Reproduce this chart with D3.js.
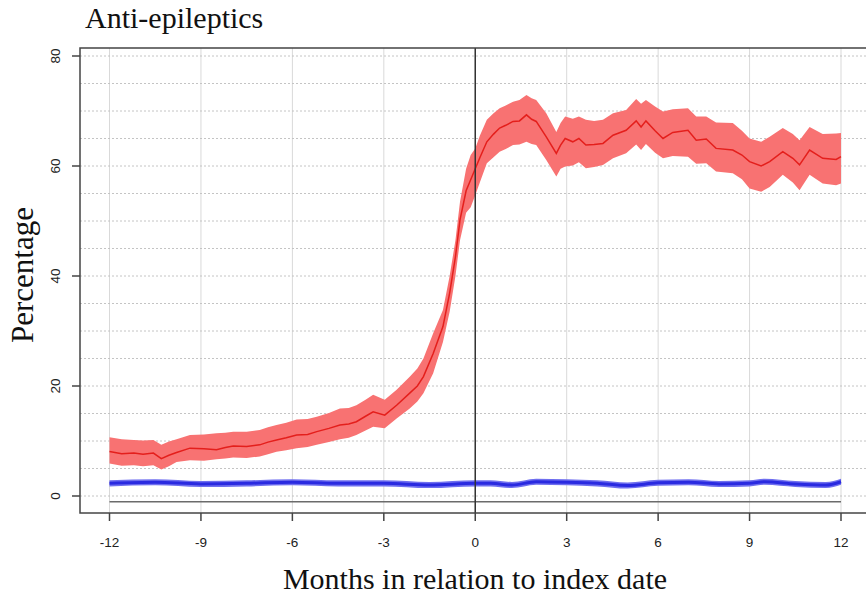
<!DOCTYPE html>
<html>
<head>
<meta charset="utf-8">
<script src="https://cdn.jsdelivr.net/npm/d3@7"></script>
<style>
  html, body { margin: 0; padding: 0; background: #fff; }
  svg { display: block; }
</style>
</head>
<body>
<svg id="chart" width="866" height="595"></svg>
<script>
// Anti-epileptics: share of patients on medication around the index date.

const monthTicks = [-12, -9, -6, -3, 0, 3, 6, 9, 12];
const pctTicks = [0, 20, 40, 60, 80];

// cases (red): mean with confidence band
const caseMonths = [-12, -11.6, -11.2, -10.9, -10.56, -10.3, -10.05, -9.8, -9.36, -8.9, -8.49, -8.2, -7.94, -7.5, -7.07,
  -6.8, -6.52, -6.2, -5.86, -5.5, -5.2, -4.8, -4.44, -4.15, -3.9, -3.6, -3.35, -2.97, -2.58, -2.15, -1.9, -1.7, -1.38,
  -1.06, -0.84, -0.65, -0.5, -0.3, -0.15, 0, 0.15, 0.38, 0.6, 0.8, 1.0, 1.24, 1.45, 1.68, 1.85, 2.0, 2.33, 2.66, 2.8,
  2.95, 3.2, 3.4, 3.63, 3.9, 4.19, 4.52, 4.95, 5.28, 5.44, 5.6, 5.9, 6.16, 6.48, 6.98, 7.25, 7.58, 7.9, 8.45, 8.75,
  9.0, 9.38, 9.66, 10.09, 10.42, 10.64, 10.97, 11.4, 11.84, 12];
const caseMean = [8.1, 7.7, 7.8, 7.6, 7.8, 6.8, 7.4, 7.9, 8.7, 8.6, 8.4, 8.8, 9.1, 9.0, 9.3,
  9.8, 10.2, 10.6, 11.1, 11.2, 11.7, 12.3, 12.9, 13.1, 13.5, 14.5, 15.3, 14.7, 16.5, 18.7, 20.0, 21.7, 25.9,
  30.8, 36.9, 43.5, 50.2, 55.5, 57.5, 59.5, 61.5, 64.4, 65.8, 66.9, 67.4, 68.1, 68.2, 69.3, 68.5, 68.1, 65.3, 62.3, 63.8,
  65.0, 64.4, 65.0, 63.8, 63.9, 64.1, 65.6, 66.5, 68.2, 67.1, 68.2, 66.4, 65.0, 66.1, 66.5, 64.7, 64.9, 63.2, 62.9, 62.0,
  60.8, 60.0, 60.8, 62.6, 61.4, 60.2, 62.9, 61.4, 61.2, 61.7];
const caseLow = [5.9, 5.5, 5.6, 5.4, 5.6, 4.8, 5.4, 6.2, 6.5, 6.4, 6.7, 6.8, 7.0, 6.9, 7.2,
  7.6, 8.05, 8.3, 8.7, 8.9, 9.3, 9.8, 10.3, 10.6, 11.1, 11.9, 12.6, 12.3, 14.1, 15.9, 17.2, 18.7, 22.3,
  28.0, 33.5, 40.0, 46.5, 51.5, 52.5, 54.7, 57.0, 60.5, 61.6, 62.6, 63.1, 63.8, 63.9, 64.4, 64.0, 63.8, 61.1, 58.1, 59.5,
  59.9, 60.1, 60.7, 59.6, 59.8, 60.2, 61.4, 62.3, 63.9, 62.9, 64.0, 62.4, 61.4, 61.8, 61.7, 60.4, 60.5, 59.0, 58.7, 57.6,
  55.9, 55.3, 56.2, 58.4, 57.0, 55.6, 58.4, 56.8, 56.5, 56.8];
const caseHigh = [10.7, 10.3, 10.2, 10.1, 10.2, 9.3, 9.9, 10.3, 11.1, 11.2, 11.4, 11.5, 11.7, 11.7, 12.0,
  12.5, 12.9, 13.3, 13.9, 14.0, 14.4, 15.1, 15.9, 16.0, 16.5, 17.5, 18.4, 17.5, 19.3, 21.7, 23.2, 25.0, 29.6,
  33.8, 40.0, 46.5, 53.5, 59.5, 62.0, 63.2, 65.5, 68.4, 69.6, 70.5, 71.0, 71.7, 72.0, 72.9, 72.3, 72.0, 69.6, 66.2, 67.8,
  69.0, 68.6, 69.0, 68.4, 68.2, 68.4, 69.6, 70.2, 72.2, 71.3, 72.0, 70.8, 69.9, 70.3, 70.5, 69.0, 69.0, 67.9, 67.8, 66.4,
  65.0, 64.4, 65.3, 66.9, 65.8, 64.7, 67.1, 65.8, 65.9, 66.0];

// controls (blue)
const ctrlMonths = [-12, -10.5, -9, -7.5, -6, -4.5, -3, -1.5, 0, 0.5, 1.2, 2, 3, 4, 5, 6, 7, 8, 9, 9.5, 10.5, 11.5, 12];
const ctrlMean = [2.3, 2.5, 2.2, 2.3, 2.5, 2.3, 2.3, 2.0, 2.3, 2.3, 2.0, 2.6, 2.5, 2.3, 1.9, 2.4, 2.5, 2.2, 2.3, 2.6, 2.2, 2.0, 2.6];

const refLevel = -1.05;

const svg = d3.select('#chart');
const box = { left: 80, top: 48, right: 880, bottom: 513 };

const x = d3.scaleLinear().domain([-12, 12]).range([109.5, 841]);
const y = d3.scaleLinear().domain([0, 80]).range([496, 56]);

// grid
const grid = svg.append('g');
grid.selectAll('line.vg').data(monthTicks).enter().append('line')
  .attr('x1', d => x(d)).attr('x2', d => x(d))
  .attr('y1', box.top).attr('y2', box.bottom)
  .attr('stroke', '#d9d9d9').attr('stroke-width', 1);
grid.selectAll('line.hg').data(d3.range(0, 85, 5)).enter().append('line')
  .attr('x1', box.left).attr('x2', box.right)
  .attr('y1', d => y(d)).attr('y2', d => y(d))
  .attr('stroke', '#c4c4c4').attr('stroke-width', 1).attr('stroke-dasharray', '2,2');

// reference line under the curves
svg.append('line')
  .attr('x1', x(-12)).attr('x2', x(12))
  .attr('y1', y(refLevel)).attr('y2', y(refLevel))
  .attr('stroke', '#6b6b6b').attr('stroke-width', 1.6);

// controls
const ctrl = ctrlMonths.map((m, i) => ({ m, v: ctrlMean[i] }));
svg.append('path').datum(ctrl)
  .attr('fill', '#6f6fef')
  .attr('d', d3.area().x(d => x(d.m)).y0(d => y(d.v - 0.55)).y1(d => y(d.v + 0.55)).curve(d3.curveMonotoneX));
svg.append('path').datum(ctrl)
  .attr('fill', 'none').attr('stroke', '#2a2ae0').attr('stroke-width', 3)
  .attr('d', d3.line().x(d => x(d.m)).y(d => y(d.v)).curve(d3.curveMonotoneX));

// cases
const cases = caseMonths.map((m, i) => ({ m, v: caseMean[i], lo: caseLow[i], hi: caseHigh[i] }));
svg.append('path').datum(cases)
  .attr('fill', '#f87272')
  .attr('d', d3.area().x(d => x(d.m)).y0(d => y(d.lo)).y1(d => y(d.hi)));
svg.append('path').datum(cases)
  .attr('fill', 'none').attr('stroke', '#e41f1c').attr('stroke-width', 1.5)
  .attr('d', d3.line().x(d => x(d.m)).y(d => y(d.v)));

// index date
svg.append('line')
  .attr('x1', x(0)).attr('x2', x(0))
  .attr('y1', box.top).attr('y2', box.bottom)
  .attr('stroke', '#333').attr('stroke-width', 1.5);

// frame
svg.append('rect')
  .attr('x', box.left).attr('y', box.top)
  .attr('width', box.right - box.left).attr('height', box.bottom - box.top)
  .attr('fill', 'none').attr('stroke', '#444').attr('stroke-width', 1.5);

// x axis
const xAxis = svg.append('g');
xAxis.selectAll('line').data(monthTicks).enter().append('line')
  .attr('x1', d => x(d)).attr('x2', d => x(d))
  .attr('y1', box.bottom).attr('y2', box.bottom + 8)
  .attr('stroke', '#444').attr('stroke-width', 1.5);
xAxis.selectAll('text').data(monthTicks).enter().append('text')
  .attr('x', d => x(d)).attr('y', 547)
  .attr('text-anchor', 'middle')
  .attr('font-family', 'Liberation Sans, Arial, sans-serif').attr('font-size', 13.5)
  .attr('fill', '#222')
  .text(d => d);

// y axis
const yAxis = svg.append('g');
yAxis.selectAll('line').data(pctTicks).enter().append('line')
  .attr('x1', box.left - 8).attr('x2', box.left)
  .attr('y1', d => y(d)).attr('y2', d => y(d))
  .attr('stroke', '#444').attr('stroke-width', 1.5);
yAxis.selectAll('text').data(pctTicks).enter().append('text')
  .attr('transform', d => `translate(60,${y(d)}) rotate(-90)`)
  .attr('text-anchor', 'middle')
  .attr('font-family', 'Liberation Sans, Arial, sans-serif').attr('font-size', 13.5)
  .attr('fill', '#222')
  .text(d => d);

// titles
const serif = 'Liberation Serif, Times New Roman, serif';
svg.append('text')
  .attr('x', 85).attr('y', 28)
  .attr('font-family', serif).attr('font-size', 30).attr('fill', '#111')
  .text('Anti-epileptics');
svg.append('text')
  .attr('x', 475).attr('y', 589)
  .attr('text-anchor', 'middle')
  .attr('font-family', serif).attr('font-size', 30).attr('fill', '#111')
  .text('Months in relation to index date');
svg.append('text')
  .attr('transform', 'translate(33,275) rotate(-90)')
  .attr('text-anchor', 'middle')
  .attr('font-family', serif).attr('font-size', 31).attr('fill', '#111')
  .text('Percentage');
</script>
</body>
</html>
